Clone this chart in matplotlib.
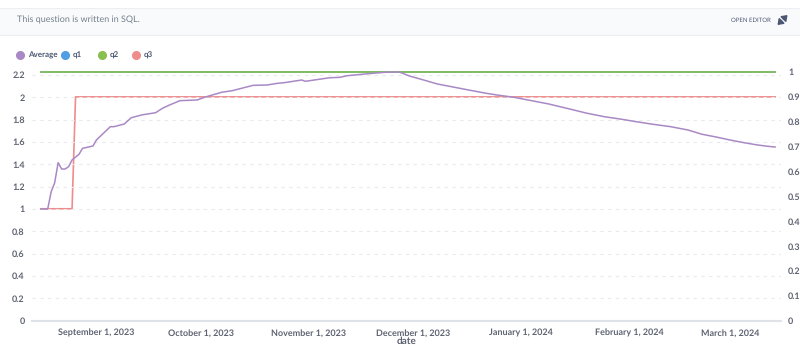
import datetime as dt
import matplotlib
matplotlib.use("Agg")
import matplotlib.pyplot as plt
from matplotlib.patches import Rectangle, FancyArrowPatch
from matplotlib.lines import Line2D

# ---- data ----
avg_dates = ["2023-08-16", "2023-08-18", "2023-08-19", "2023-08-20", "2023-08-21",
             "2023-08-22", "2023-08-23", "2023-08-24", "2023-08-25", "2023-08-27",
             "2023-08-28", "2023-08-31", "2023-09-01", "2023-09-05", "2023-09-06",
             "2023-09-09", "2023-09-11", "2023-09-14", "2023-09-18", "2023-09-20",
             "2023-09-22", "2023-09-25", "2023-09-30", "2023-10-02", "2023-10-07",
             "2023-10-10", "2023-10-16", "2023-10-20", "2023-10-23", "2023-10-25",
             "2023-10-30", "2023-10-31", "2023-11-07", "2023-11-10", "2023-11-12",
             "2023-11-18", "2023-11-23", "2023-11-27", "2023-11-30", "2023-12-03",
             "2023-12-08", "2023-12-12", "2023-12-17", "2023-12-22", "2023-12-25",
             "2023-12-30", "2024-01-04", "2024-01-09", "2024-01-15", "2024-01-20",
             "2024-01-25", "2024-01-30", "2024-02-03", "2024-02-08", "2024-02-13",
             "2024-02-18", "2024-02-22", "2024-02-26", "2024-03-01", "2024-03-05",
             "2024-03-09", "2024-03-12", "2024-03-14"]
avg_values = [1.0, 1.0, 1.155, 1.235, 1.415,
              1.358, 1.358, 1.379, 1.439, 1.49,
              1.543, 1.564, 1.618, 1.737, 1.737,
              1.761, 1.817, 1.842, 1.862, 1.902,
              1.931, 1.97, 1.976, 2.0, 2.045,
              2.059, 2.107, 2.11, 2.125, 2.131,
              2.155, 2.143, 2.175, 2.179, 2.193,
              2.211, 2.224, 2.227, 2.19, 2.164,
              2.119, 2.095, 2.065, 2.036, 2.021,
              2.0, 1.97, 1.94, 1.895, 1.857,
              1.826, 1.803, 1.782, 1.758, 1.737,
              1.707, 1.669, 1.645, 1.618, 1.594,
              1.573, 1.561, 1.555]

q1_dates = ["2023-08-16", "2024-03-14"]
q1_values = [1.0, 1.0]
q2_dates = ["2023-08-16", "2024-03-14"]
q2_values = [1.0, 1.0]
q3_dates = ["2023-08-16", "2023-08-25", "2023-08-26", "2024-03-14"]
q3_values = [0.45, 0.45, 0.9, 0.9]

left_ticks = [0, 0.2, 0.4, 0.6, 0.8, 1, 1.2, 1.4, 1.6, 1.8, 2, 2.2]
right_ticks = [0, 0.1, 0.2, 0.3, 0.4, 0.5, 0.6, 0.7, 0.8, 0.9, 1]
x_ticks = ["2023-09-01", "2023-10-01", "2023-11-01", "2023-12-01",
           "2024-01-01", "2024-02-01", "2024-03-01"]

series_names = ["Average", "q1", "q2", "q3"]
colors = {"Average": "#a989c5", "q1": "#509ee3", "q2": "#88bf4d", "q3": "#ef8c8c"}


def to_dates(lst):
    return [dt.datetime.strptime(s, "%Y-%m-%d") for s in lst]


plt.rcParams['font.family'] = ['Lato', 'DejaVu Sans']
plt.rcParams['text.hinting'] = 'no_hinting'
plt.rcParams['text.hinting_factor'] = 1
label_col = "#5f6472"

fig = plt.figure(figsize=(8, 3.49), dpi=100)

# header bar
fig.patches.append(Rectangle((0, 1 - 35 / 349), 1, 27 / 349, transform=fig.transFigure,
                             facecolor="#f9fafb", edgecolor="none", zorder=0))
for yy in (8, 35):
    fig.add_artist(Line2D([0, 1], [1 - yy / 349] * 2, transform=fig.transFigure,
                          color="#eceef1", lw=0.8))
fig.text(17 / 800, 1 - 20 / 349, "This question is written in SQL.", fontsize=6.5,
         color="#74808c", va="center", ha="left")
fig.text(771 / 800, 1 - 20 / 349, "OPEN EDITOR", fontsize=4.3, color="#4c5773",
         va="center", ha="right")
cx, cy = 782.5 / 800, 1 - 20 / 349
for dx, dy in ((5, 5), (-5, -5)):
    fig.add_artist(FancyArrowPatch(
        (cx + dx * 0.2 / 800, cy + dy * 0.2 / 349), (cx + dx / 800, cy + dy / 349),
        transform=fig.transFigure,
        arrowstyle="-|>,head_length=3,head_width=2.2", color="#4c5773", lw=1.2,
        shrinkA=0, shrinkB=0))

ax = fig.add_axes([31.7 / 800, 1 - 320.7 / 349, (781 - 31.7) / 800, (320.7 - 72) / 349])
ax2 = ax.twinx()

d0 = dt.datetime(2023, 9, 1)
xmin = d0 + dt.timedelta(days=-18.6)
xmax = d0 + dt.timedelta(days=196.7)

ax.plot(to_dates(avg_dates), avg_values, color=colors["Average"], lw=1.1, zorder=5,
        clip_on=False)
ax2.plot(to_dates(q1_dates), q1_values, color=colors["q1"], lw=1.2, clip_on=False)
ax2.plot(to_dates(q2_dates), q2_values, color=colors["q2"], lw=1.2, clip_on=False)
ax2.plot(to_dates(q3_dates), q3_values, color=colors["q3"], lw=1.2, clip_on=False)

# put the average above the twin axis lines
ax.set_zorder(ax2.get_zorder() + 1)
ax.patch.set_visible(False)

ax.set_xlim(xmin, xmax)
ax.set_ylim(0, (320.7 - 72) / 111.7)
ax2.set_ylim(0, 1.0)

ax.set_yticks(left_ticks)
ax.set_yticklabels([f"{v:g}" for v in left_ticks])
ax2.set_yticks(right_ticks)
ax2.set_yticklabels([f"{v:g}" for v in right_ticks])
ax.set_xticks(to_dates(x_ticks))
ax.set_xticklabels([d.strftime("%B %-d, %Y") for d in to_dates(x_ticks)])

for a in (ax, ax2):
    for s in a.spines.values():
        s.set_visible(False)
ax.spines["bottom"].set_visible(True)
ax.spines["bottom"].set_color("#dfe2e7")
ax.spines["bottom"].set_linewidth(1.5)

ax.tick_params(axis="y", length=0, pad=5, labelsize=6.6, labelcolor=label_col)
ax2.tick_params(axis="y", length=0, pad=5, labelsize=6.6, labelcolor=label_col)
ax.tick_params(axis="x", length=0, pad=6, labelsize=6.6, labelcolor=label_col)
for lab in ax.get_xticklabels() + ax.get_yticklabels() + ax2.get_yticklabels():
    lab.set_fontweight("bold")

ax.grid(axis="y", color="#e8eaed", linestyle=(0, (3, 4)), lw=0.8)
ax.set_axisbelow(True)
ax.set_xlabel("date", fontsize=7, color=label_col, fontweight="bold", labelpad=-0.5)

# legend
leg_x = [20, 65, 102, 136]
for name, lx in zip(series_names, leg_x):
    fig.add_artist(Line2D([lx / 800], [1 - 55 / 349], transform=fig.transFigure,
                          marker="o", markersize=5.5, color=colors[name], lw=0))
    fig.text((lx + 8) / 800, 1 - 55 / 349, name, fontsize=5.9, color="#4c5773",
             va="center", ha="left", fontweight="bold")

fig.savefig("out.png", dpi=100, facecolor="white")
